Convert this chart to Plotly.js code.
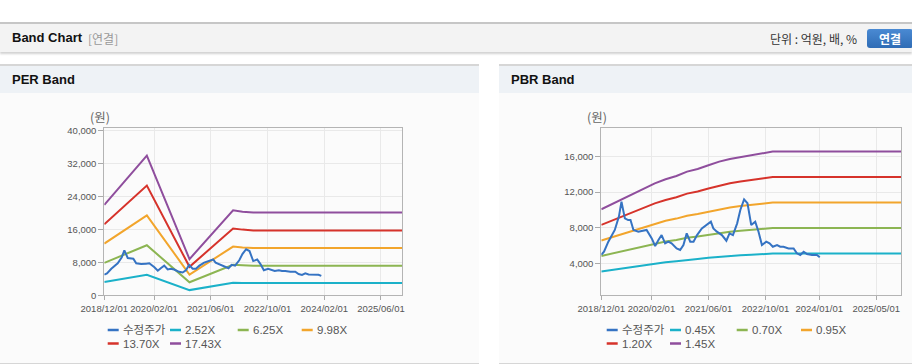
<!DOCTYPE html>
<html><head><meta charset="utf-8">
<script src="https://cdn.plot.ly/plotly-3.0.1.min.js"></script>
<style>
body{margin:0;width:912px;height:364px;position:relative;overflow:hidden;background:#fff;font-family:"Liberation Sans","Noto Sans CJK KR",sans-serif;}
#topbar{position:absolute;left:0;top:22px;width:912px;height:28px;background:#f3f3f3;border-top:2px solid #c6c6c6;box-shadow:0 2px 2px rgba(0,0,0,0.18);}
#topbar .t{position:absolute;left:12px;top:6px;font-size:13px;font-weight:bold;color:#111;}
#topbar .s{position:absolute;left:88px;top:7px;font-size:12px;color:#999;font-family:"Noto Sans CJK KR";line-height:15px;}
#topbar .u{position:absolute;left:770px;top:7px;font-size:12px;color:#333;font-family:"Noto Sans CJK KR";line-height:15px;}
#topbar .b{position:absolute;left:867px;top:5px;width:46px;height:19px;background:linear-gradient(#4a8ad3,#2f6cb5);border-radius:3px;color:#fff;font-size:12px;font-weight:bold;text-align:center;line-height:19px;font-family:"Noto Sans CJK KR";}
.panel{position:absolute;top:64px;height:297px;background:#fbfbfb;border-top:2px solid #d6d6d6;border-bottom:1px solid #d6d6d6;}
.panel .h{height:27px;background:#eef2f6;}
.panel .h span{position:absolute;left:12px;top:6px;font-size:13px;font-weight:bold;color:#111;}
#plot{position:absolute;left:0;top:0;width:912px;height:364px;}
</style></head>
<body>
<div id="topbar"><span class="t">Band Chart</span><span class="s">[연결]</span><span class="u">단위 : 억원, 배, %</span><div class="b">연결</div></div>
<div class="panel" style="left:0;width:479px;"><div class="h"><span>PER Band</span></div></div>
<div class="panel" style="left:499px;width:413px;"><div class="h"><span>PBR Band</span></div></div>
<div id="plot"></div>
<script>
// ---- data ----
const priceName = "수정주가";
const priceDates = ["2018-12-01","2018-12-24","2019-01-30","2019-03-26","2019-04-30","2019-05-22","2019-06-20","2019-07-18","2019-08-07","2019-09-01","2019-10-13","2019-11-25","2019-12-22","2020-02-04","2020-03-04","2020-04-01","2020-04-28","2020-05-28","2020-06-24","2020-07-22","2020-09-03","2020-10-03","2020-10-31","2020-11-28","2020-12-28","2021-01-25","2021-02-24","2021-04-06","2021-05-19","2021-06-22","2021-07-13","2021-08-12","2021-09-24","2021-11-01","2021-11-28","2021-12-27","2022-02-01","2022-02-28","2022-04-01","2022-04-30","2022-06-01","2022-07-05","2022-08-02","2022-08-31","2022-10-07","2022-11-04","2022-12-02","2023-01-07","2023-02-03","2023-03-03","2023-04-15","2023-05-28","2023-06-25","2023-07-24","2023-08-22","2023-09-19","2023-11-01","2023-12-13","2024-01-06"];
const priceVals = [5000,5340,6460,7770,9260,10930,9070,8880,8880,7770,7580,7690,7770,6830,5980,6650,7200,6270,6460,6270,5710,5530,6090,7390,6460,6460,7200,7950,8320,8700,7950,7580,7200,6570,7390,7200,8510,10000,11190,10750,8320,8700,7580,6090,6460,6270,5900,6090,5900,5900,5710,5710,5160,4970,5340,5080,4970,4970,4710];

const perNames = ["2.52X","6.25X","9.98X","13.70X","17.43X"];
const perDates = ["2018-12-01","2019-12-01","2020-12-01","2021-12-10","2022-03-01","2022-06-01","2025-12-01"];
const per252 = [3230,5000,1260,3040,3010,3000,3000];
const per625 = [7870,12170,3160,7400,7280,7200,7200];
const per998 = [12560,19430,5040,11830,11630,11520,11520];
const per1370 = [17250,26670,6920,16230,15960,15760,15760];
const per1743 = [21950,33940,8800,20650,20300,20090,20090];

const pbrNames = ["0.45X","0.70X","0.95X","1.20X","1.45X"];
const pbrDates = ["2018-12-01","2019-03-01","2019-06-01","2019-09-01","2019-12-01","2020-03-01","2020-06-01","2020-09-01","2020-12-01","2021-03-01","2021-06-01","2021-09-01","2021-12-01","2022-03-01","2022-06-01","2022-09-01","2022-12-01","2025-12-01"];
const pbr045 = [3130,3300,3500,3670,3850,4030,4170,4280,4440,4530,4660,4780,4880,4940,4990,5070,5130,5130];
const pbr070 = [4870,5140,5440,5710,5980,6270,6480,6660,6900,7040,7240,7440,7580,7690,7760,7890,7980,7980];
const pbr095 = [6600,6970,7380,7750,8120,8500,8800,9040,9360,9560,9830,10100,10290,10440,10540,10710,10830,10830];
const pbr120 = [8340,8810,9330,9790,10250,10740,11110,11420,11830,12070,12410,12750,13000,13180,13310,13520,13680,13680];
const pbr145 = [10080,10640,11270,11830,12390,12980,13430,13800,14290,14590,15000,15410,15710,15930,16080,16340,16530,16530];

const perXTickVals = ["2018-12-01","2020-02-01","2021-06-01","2022-10-01","2024-02-01","2025-06-01"];
const perXTickText = ["2018/12/01","2020/02/01","2021/06/01","2022/10/01","2024/02/01","2025/06/01"];
const pbrXTickVals = ["2018-12-01","2020-02-01","2021-06-01","2022-10-01","2024-01-01","2025-05-01"];
const pbrXTickText = ["2018/12/01","2020/02/01","2021/06/01","2022/10/01","2024/01/01","2025/05/01"];
const perYTicks = [0,8000,16000,24000,32000,40000];
const pbrYTicks = [4000,8000,12000,16000];
const yUnit = "(원)";

// ---- styles ----
const colors = {price:"#3573c3", c1:"#1bb1c9", c2:"#8cb552", c3:"#f2a52c", c4:"#d6332b", c5:"#8f4e9d"};
const bandColors = [colors.c1, colors.c2, colors.c3, colors.c4, colors.c5];
const W = 912, H = 364;
const fx = p => p / W, fy = p => 1 - p / H;

function line(x, y, name, color, xa, ya, w) {
  return {type:"scatter", mode:"lines", x:x, y:y, name:name, xaxis:xa, yaxis:ya,
          line:{color:color, width:w||2}, showlegend:false, hoverinfo:"skip"};
}
const perBands = [per252, per625, per998, per1370, per1743];
const pbrBands = [pbr045, pbr070, pbr095, pbr120, pbr145];
const traces = [];
perBands.forEach((v,i) => traces.push(line(perDates, v, perNames[i], bandColors[i], "x", "y")));
traces.push(line(priceDates, priceVals, priceName, colors.price, "x", "y"));
pbrBands.forEach((v,i) => traces.push(line(pbrDates, v, pbrNames[i], bandColors[i], "x2", "y2")));
traces.push(line(priceDates, priceVals, priceName, colors.price, "x2", "y2"));

const tickFont = {family:"Liberation Sans, Arial, sans-serif", size:9.5, color:"#555"};
function xaxis(dom, tv, tt, anchor) {
  return {domain:dom, anchor:anchor, type:"date", range:["2018-12-01","2025-12-01"],
    tickmode:"array", tickvals:tv, ticktext:tt, ticks:"outside", ticklen:4, tickcolor:"#aaa",
    showgrid:true, gridcolor:"#e9e9e9", gridwidth:1, showline:true, linecolor:"#b4b4b4", linewidth:1,
    mirror:true, zeroline:false, tickfont:tickFont, fixedrange:true};
}
function yaxis(dom, range, tv, anchor) {
  return {domain:dom, anchor:anchor, range:range, tickmode:"array", tickvals:tv,
    ticktext:tv.map(v => v.toLocaleString("en-US")), ticks:"outside", ticklen:5, tickcolor:"#aaa",
    showgrid:true, gridcolor:"#e9e9e9", gridwidth:1, showline:true, linecolor:"#b4b4b4", linewidth:1,
    mirror:true, zeroline:false, tickfont:tickFont, fixedrange:true};
}
const yDom = [fy(295.3), fy(128.3)];

// custom legends
const shapes = [], annotations = [];
function legendItem(px, py, color, text) {
  shapes.push({type:"line", xref:"paper", yref:"paper", x0:fx(px), x1:fx(px+11), y0:fy(py), y1:fy(py), line:{color:color, width:2.5}});
  annotations.push({xref:"paper", yref:"paper", x:fx(px+13), y:fy(py), xanchor:"left", yanchor:"middle", showarrow:false,
    text:text, font:{family:"Liberation Sans, Noto Sans CJK KR, sans-serif", size:11.5, color:"#555"}});
}
const perLegend = [[priceName, colors.price], [perNames[0], bandColors[0]], [perNames[1], bandColors[1]], [perNames[2], bandColors[2]], [perNames[3], bandColors[3]], [perNames[4], bandColors[4]]];
const pbrLegend = [[priceName, colors.price], [pbrNames[0], bandColors[0]], [pbrNames[1], bandColors[1]], [pbrNames[2], bandColors[2]], [pbrNames[3], bandColors[3]], [pbrNames[4], bandColors[4]]];
const leftCols = [107.7, 170, 237.7, 301.7], rightCols = [606.7, 670, 736.7, 801];
const rows = [330, 343.5];
perLegend.forEach((it,i) => legendItem(leftCols[i%4], rows[Math.floor(i/4)], it[1], it[0]));
pbrLegend.forEach((it,i) => legendItem(rightCols[i%4], rows[Math.floor(i/4)], it[1], it[0]));
[88, 585].forEach(px => annotations.push({xref:"paper", yref:"paper", x:fx(px), y:fy(117), xanchor:"left", yanchor:"middle",
  showarrow:false, text:yUnit, font:{family:"Noto Sans CJK KR, sans-serif", size:12.5, color:"#666"}}));

const layout = {
  width:W, height:H, margin:{l:0,r:0,t:0,b:0}, paper_bgcolor:"rgba(0,0,0,0)", plot_bgcolor:"rgba(0,0,0,0)",
  showlegend:false,
  xaxis: xaxis([fx(104.3), fx(402.3)], perXTickVals, perXTickText, "y"),
  yaxis: yaxis(yDom, [0, 40580], perYTicks, "x"),
  xaxis2: xaxis([fx(601.3), fx(901.3)], pbrXTickVals, pbrXTickText, "y2"),
  yaxis2: yaxis(yDom, [470, 19130], pbrYTicks, "x2"),
  shapes:shapes, annotations:annotations
};
Plotly.newPlot("plot", traces, layout, {displayModeBar:false, staticPlot:true});
</script>
</body></html>
